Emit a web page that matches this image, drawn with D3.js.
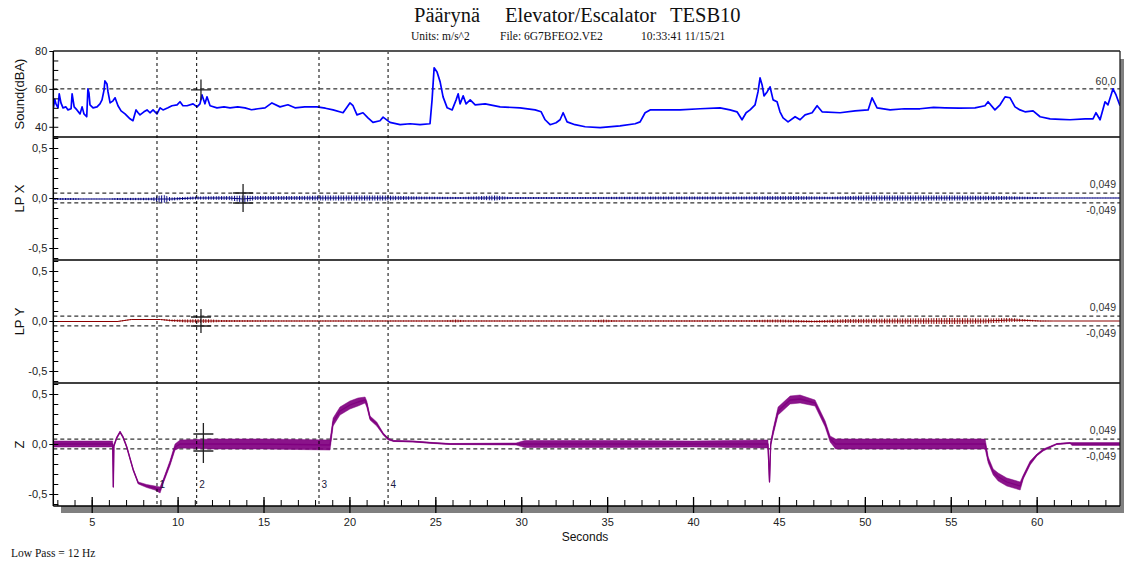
<!DOCTYPE html>
<html>
<head>
<meta charset="utf-8">
<script src="https://cdn.jsdelivr.net/npm/d3@7"></script>
<style>
body { margin: 0; background: #fff; }
text { font-family: "Liberation Sans", Arial, sans-serif; }
.serif { font-family: "Liberation Serif", "Times New Roman", serif; }
</style>
</head>
<body>
<div id="chart"></div>
<script>
// DATA
// sound level: [seconds, dBA]
var soundPts = [[2.77,50.0],[2.85,54.5],[2.92,52.1],[3.04,50.0],[3.11,57.4],[3.21,52.6],[3.33,50.0],[3.50,50.5],[3.62,48.9],[3.80,49.5],
  [3.86,57.4],[3.98,50.5],[4.14,48.9],[4.32,46.8],[4.44,50.5],[4.55,46.8],[4.71,45.3],[4.78,60.0],[4.84,57.9],[4.90,51.6],
  [5.08,50.0],[5.31,50.5],[5.48,52.1],[5.60,54.2],[5.72,59.5],[5.77,64.2],[5.89,62.6],[5.95,58.4],[6.07,52.6],[6.24,53.7],
  [6.36,55.3],[6.53,51.1],[6.71,48.4],[6.94,46.8],[7.23,44.2],[7.40,43.2],[7.58,48.9],[7.70,47.4],[7.81,46.3],[8.04,47.9],
  [8.22,48.9],[8.39,47.4],[8.57,48.9],[8.80,46.8],[8.98,50.0],[9.15,48.9],[9.44,50.0],[9.67,51.1],[9.97,51.6],[10.14,53.2],
  [10.31,51.1],[10.55,51.1],[10.90,52.1],[11.13,50.5],[11.30,52.1],[11.42,56.8],[11.59,52.1],[11.71,55.8],[11.89,51.1],[12.29,50.0],
  [12.70,50.5],[13.05,50.0],[13.50,50.5],[13.92,50.0],[14.30,49.0],[14.68,49.5],[15.09,50.0],[15.49,52.6],[15.96,50.5],[16.42,51.6],
  [16.83,50.0],[17.40,50.5],[18.11,50.5],[18.60,49.8],[19.05,48.9],[19.63,47.4],[20.03,52.6],[20.21,51.1],[20.44,46.3],[20.79,47.4],
  [21.08,44.7],[21.37,42.3],[21.78,43.2],[21.96,45.1],[22.36,42.3],[22.95,41.1],[23.53,41.6],[24.11,41.1],[24.69,41.6],[24.81,54.2],
  [24.93,71.1],[25.10,68.9],[25.28,63.7],[25.45,55.8],[25.69,50.0],[25.98,48.9],[26.21,54.2],[26.33,57.4],[26.44,52.1],[26.62,56.3],
  [26.79,52.1],[27.03,54.2],[27.32,51.6],[27.90,52.1],[28.77,50.5],[29.93,50.0],[30.81,48.9],[31.16,47.9],[31.39,43.7],[31.68,41.1],
  [32.03,42.1],[32.26,43.7],[32.44,47.4],[32.67,42.6],[33.13,41.1],[33.72,40.0],[34.59,39.5],[35.75,40.5],[36.63,41.6],[36.92,42.6],
  [37.21,47.4],[37.50,48.9],[38.37,48.9],[39.24,48.9],[40.41,49.5],[41.57,50.0],[42.15,48.9],[42.56,47.9],[42.85,43.7],[43.09,47.4],
  [43.32,48.9],[43.61,51.6],[43.78,58.4],[43.90,65.8],[44.02,62.1],[44.13,56.3],[44.31,58.4],[44.48,61.1],[44.66,54.2],[44.89,53.2],
  [45.06,47.9],[45.24,44.7],[45.53,42.6],[45.94,45.3],[46.23,43.7],[46.52,46.3],[46.93,47.4],[47.22,51.1],[47.51,47.9],[48.56,47.4],
  [49.43,48.4],[50.19,48.9],[50.42,55.3],[50.71,50.0],[51.47,48.9],[52.30,49.5],[53.21,49.5],[54.00,50.2],[54.67,50.0],[55.50,49.8],
  [56.41,50.0],[56.99,51.1],[57.17,53.2],[57.57,48.9],[57.87,51.6],[58.16,55.8],[58.45,55.3],[58.74,50.5],[59.03,48.9],[59.32,47.9],
  [59.79,48.4],[60.20,45.3],[60.78,44.2],[61.40,43.9],[61.94,43.7],[62.82,44.2],[63.28,44.2],[63.45,47.4],[63.69,43.7],[63.98,53.2],
  [64.15,51.6],[64.44,60.0],[64.62,56.8],[64.85,51.1]];

// low pass X: [seconds, centre, half-spread of the noise band]
var lpxPts = [[2.77,-0.01,0.01],[4.0,-0.01,0.01],[4.4,-0.01,0.002],[6.0,-0.01,0.002],[6.4,-0.01,0.01],[8.5,-0.01,0.012],
  [8.85,-0.01,0.03],[9.2,-0.01,0.04],[9.6,-0.01,0.015],[11.0,0.0,0.015],[13.0,0.0,0.02],[13.8,-0.01,0.035],[14.5,0.0,0.02],
  [17.0,0.0,0.02],[18.5,0.0,0.025],[22.0,0.0,0.025],[24.0,0.0,0.015],[26.5,0.0,0.01],[28.5,0.0,0.025],[29.3,0.0,0.01],
  [34.0,0.0,0.01],[38.0,0.0,0.015],[43.0,0.0,0.015],[46.0,0.0,0.02],[48.0,0.0,0.012],[50.0,0.0,0.025],[55.0,0.0,0.025],
  [58.0,0.0,0.02],[60.0,0.0,0.01],[61.0,0.0,0.003],[64.85,0.0,0.003]];

// low pass Y
var lpyPts = [[2.77,-0.005,0.004],[6.5,-0.005,0.004],[7.3,0.015,0.004],[9.0,0.015,0.006],[9.6,0.005,0.01],[10.5,0.0,0.015],
  [11.5,0.0,0.02],[12.5,0.0,0.01],[16.0,0.0,0.006],[25.5,0.0,0.005],[26.2,0.0,0.015],[26.8,0.0,0.005],[34.0,0.0,0.006],
  [34.8,0.0,0.015],[35.6,0.0,0.005],[43.0,0.0,0.008],[45.0,0.0,0.015],[47.0,-0.005,0.01],[49.0,0.0,0.02],[52.0,0.0,0.025],
  [55.0,0.0,0.03],[57.0,0.0,0.025],[58.5,0.01,0.02],[59.5,0.005,0.01],[60.2,0.0,0.004],[61.0,0.0,0.0],[64.85,0.0,0.0]];

// Z
var zPts = [[2.77,0.00,0.03],[4.5,0.00,0.03],[6.22,0.00,0.03],[6.26,-0.43,0.0],[6.29,-0.02,0.01],[6.45,0.06,0.01],
  [6.65,0.12,0.01],[6.82,0.07,0.01],[7.04,-0.03,0.01],[7.42,-0.26,0.01],[7.71,-0.39,0.01],[8.20,-0.42,0.015],[8.68,-0.44,0.02],
  [8.98,-0.46,0.03],[9.17,-0.37,0.02],[9.56,-0.19,0.025],[9.85,-0.03,0.03],[10.14,0.00,0.04],[12.0,0.00,0.05],[15.0,0.00,0.05],
  [17.0,-0.005,0.05],[18.87,-0.01,0.05],[19.05,0.22,0.04],[19.45,0.33,0.04],[20.03,0.39,0.04],[20.50,0.42,0.04],[20.91,0.44,0.03],
  [21.01,0.40,0.03],[21.20,0.26,0.02],[21.59,0.20,0.02],[21.97,0.10,0.01],[22.26,0.05,0.01],[22.56,0.03,0.005],[23.70,0.025,0.005],
  [24.87,0.01,0.005],[25.86,0.00,0.005],[29.7,0.00,0.01],[30.2,0.00,0.035],[36.0,0.00,0.035],[40.0,0.00,0.03],[44.36,0.00,0.04],
  [44.45,-0.38,0.0],[44.52,0.00,0.02],[44.66,0.12,0.03],[44.95,0.33,0.04],[45.65,0.44,0.04],[46.23,0.45,0.04],[47.10,0.41,0.03],
  [47.69,0.20,0.03],[47.98,0.05,0.03],[48.3,0.00,0.05],[57.00,0.00,0.05],[57.18,-0.16,0.03],[57.47,-0.28,0.03],[57.76,-0.33,0.04],
  [58.26,-0.38,0.04],[59.04,-0.42,0.04],[59.22,-0.33,0.02],[59.62,-0.19,0.02],[60.01,-0.11,0.01],[60.38,-0.06,0.01],
  [61.17,0.00,0.005],[61.94,0.01,0.005],[62.06,0.00,0.015],[64.85,0.00,0.015]];

// cursors (vertical dashed lines) and their numbers
var cursorTimes = [8.8, 11.11, 18.23, 22.25];
var cursorNames = ["1", "2", "3", "4"];

// crosshair markers per panel: [seconds, value, vertical half-span, bar offsets]
var soundMarker = [11.36, 59.5, 5.5, [0]];
var lpxMarker = [13.81, 0.0, 0.14, [0.05, -0.05]];
var lpyMarker = [11.36, 0.0, 0.12, [0.04, -0.05]];
var zMarker = [11.5, 0.01, 0.2, [0.09, -0.08]];

// alarm levels
var soundLevel = [60.0];
var accelLevels = [0.049, -0.049];

var xMajorTicks = [5, 10, 15, 20, 25, 30, 35, 40, 45, 50, 55, 60];
var xMinorTicks = d3.range(3, 65, 1);
var soundMajorTicks = [40, 60, 80];
var soundMinorTicks = [35, 40, 45, 50, 55, 60, 65, 70, 75, 80];
var accelMajorTicks = [-0.5, 0, 0.5];
var accelMinorTicks = [-0.6, -0.5, -0.4, -0.3, -0.2, -0.1, 0, 0.1, 0.2, 0.3, 0.4, 0.5, 0.6];

// SET UP DIMENSIONS
var W = 1125, H = 563;
var plotLeft = 53.3, plotRight = 1120, plotTop = 51, plotBottom = 506;

var svg = d3.select('#chart').append('svg')
  .attr('width', W)
  .attr('height', H);
var defs = svg.append('defs');

var x = d3.scaleLinear().domain([2.765, 64.85]).range([plotLeft, plotRight]);

var commaFmt = function(f) {
  return function(d) { return d3.format(f)(d).replace('.', ',').replace('\u2212', '-'); };
};

var panels = [
  { label: 'Sound(dBA)', top: 51, bottom: 137, domain: [34.6, 80], pts: soundPts, color: '#0000ff', band: null,
    major: soundMajorTicks, minor: soundMinorTicks, fmt: d3.format('d'), levels: soundLevel,
    levelFmt: commaFmt('.1f'), marker: soundMarker },
  { label: 'LP X', top: 137, bottom: 260, domain: [-0.62, 0.61], pts: lpxPts, color: '#00007f', band: 'hatch',
    major: accelMajorTicks, minor: accelMinorTicks, fmt: commaFmt('.1f'), levels: accelLevels,
    levelFmt: commaFmt('.3f'), marker: lpxMarker },
  { label: 'LP Y', top: 260, bottom: 383, domain: [-0.62, 0.61], pts: lpyPts, color: '#8b0000', band: 'hatch',
    major: accelMajorTicks, minor: accelMinorTicks, fmt: commaFmt('.1f'), levels: accelLevels,
    levelFmt: commaFmt('.3f'), marker: lpyMarker },
  { label: 'Z', top: 383, bottom: 506, domain: [-0.62, 0.61], pts: zPts, color: '#800080', band: 'solid',
    major: accelMajorTicks, minor: accelMinorTicks, fmt: commaFmt('.1f'), levels: accelLevels,
    levelFmt: commaFmt('.3f'), marker: zMarker }
];

// TITLE
svg.append('text').attr('class', 'serif').attr('x', 414).attr('y', 22)
  .style('font-size', '20.5px').attr('fill', '#111').text('Päärynä');
svg.append('text').attr('class', 'serif').attr('x', 505).attr('y', 22)
  .style('font-size', '20.5px').attr('fill', '#111').text('Elevator/Escalator');
svg.append('text').attr('class', 'serif').attr('x', 670).attr('y', 22)
  .style('font-size', '20.5px').attr('fill', '#111').text('TESB10');
svg.append('text').attr('class', 'serif').attr('x', 411).attr('y', 40)
  .style('font-size', '11.5px').attr('fill', '#111').text('Units: m/s^2');
svg.append('text').attr('class', 'serif').attr('x', 500).attr('y', 40)
  .style('font-size', '11.5px').attr('fill', '#111').text('File: 6G7BFEO2.VE2');
svg.append('text').attr('class', 'serif').attr('x', 641).attr('y', 40)
  .style('font-size', '11.5px').attr('fill', '#111').text('10:33:41 11/15/21');
svg.append('text').attr('class', 'serif').attr('x', 11).attr('y', 557)
  .style('font-size', '11.5px').attr('fill', '#111').text('Low Pass = 12 Hz');

// FRAME WITH 3D SHADOW
svg.append('rect').attr('x', 61).attr('y', 59).attr('width', 1124 - 61).attr('height', 513 - 59)
  .attr('fill', '#808080');
svg.append('rect').attr('x', plotLeft).attr('y', plotTop)
  .attr('width', plotRight - plotLeft).attr('height', plotBottom - plotTop).attr('fill', '#fff');

defs.append('clipPath').attr('id', 'plotclip').append('rect')
  .attr('x', plotLeft).attr('y', plotTop).attr('width', plotRight - plotLeft).attr('height', plotBottom - plotTop);

// PANELS
panels.forEach(function(p, i) {
  var y = d3.scaleLinear().domain(p.domain).range([p.bottom, p.top]);
  var g = svg.append('g').attr('clip-path', 'url(#plotclip)');

  // alarm levels
  p.levels.forEach(function(v) {
    g.append('line')
      .attr('x1', plotLeft).attr('x2', plotRight)
      .attr('y1', y(v)).attr('y2', y(v))
      .attr('stroke', '#000').attr('stroke-width', 1).attr('stroke-dasharray', '4,3');
    svg.append('text')
      .attr('x', 1116)
      .attr('y', v >= 0 ? y(v) - (p.band ? 5 : 3.5) : y(v) + 11)
      .attr('text-anchor', 'end')
      .style('font-size', '10.5px')
      .attr('fill', '#333')
      .text(p.levelFmt(v));
  });

  // trace: noise band first, then the centre line
  if (p.band) {
    var fill = p.color;
    if (p.band === 'hatch') {
      // thin vertical strokes mimic the fast oscillation of the filtered signal
      var pat = defs.append('pattern')
        .attr('id', 'hatch' + i)
        .attr('patternUnits', 'userSpaceOnUse')
        .attr('width', 2.6).attr('height', 6);
      pat.append('rect').attr('x', 0).attr('y', 0).attr('width', 1).attr('height', 6).attr('fill', p.color);
      fill = 'url(#hatch' + i + ')';
    }
    var area = d3.area()
      .x(function(d) { return x(d[0]); })
      .y0(function(d) { return y(d[1] - d[2]); })
      .y1(function(d) { return y(d[1] + d[2]); });
    g.append('path').datum(p.pts)
      .attr('d', area)
      .attr('fill', fill)
      .attr('fill-opacity', p.band === 'solid' ? 0.92 : 1)
      .attr('stroke', p.band === 'solid' ? p.color : 'none')
      .attr('stroke-width', 0.8).attr('stroke-opacity', 0.6);
  }
  var line = d3.line()
    .x(function(d) { return x(d[0]); })
    .y(function(d) { return y(d[1]); });
  g.append('path').datum(p.pts)
    .attr('d', line)
    .attr('fill', 'none')
    .attr('stroke', p.color)
    .attr('stroke-width', p.band === 'hatch' ? 1 : (p.band ? 1.3 : 1.7))
    .attr('stroke-linejoin', 'round');

  // crosshair marker
  var m = p.marker, mx = x(m[0]);
  g.append('line').attr('x1', mx).attr('x2', mx)
    .attr('y1', y(m[1] + m[2])).attr('y2', y(m[1] - m[2]))
    .attr('stroke', '#222').attr('stroke-width', 1.3);
  m[3].forEach(function(b) {
    g.append('line').attr('x1', mx - 10).attr('x2', mx + 10)
      .attr('y1', y(m[1] + b)).attr('y2', y(m[1] + b))
      .attr('stroke', '#222').attr('stroke-width', 1.3);
  });

  // left axis: inner minor ticks, crossing major ticks with labels
  var minorAxis = svg.append('g')
    .attr('transform', 'translate(' + plotLeft + ',0)')
    .call(d3.axisRight(y).tickValues(p.minor).tickSize(5).tickFormat(''));
  minorAxis.select('.domain').remove();
  var majorAxis = svg.append('g')
    .attr('transform', 'translate(' + plotLeft + ',0)')
    .call(d3.axisLeft(y).tickValues(p.major).tickSize(4).tickPadding(2).tickFormat(p.fmt));
  majorAxis.select('.domain').remove();
  majorAxis.selectAll('text').style('font-size', '11px').attr('fill', '#222')
    .style('font-family', '"Liberation Sans", Arial, sans-serif');
  svg.selectAll('.tick line').attr('stroke', '#000');

  // panel label
  svg.append('text')
    .attr('transform', 'translate(24,' + ((p.top + p.bottom) / 2) + ') rotate(-90)')
    .attr('text-anchor', 'middle')
    .style('font-size', '13px')
    .attr('fill', '#111')
    .text(p.label);

  // separator under each panel (except last)
  if (i < panels.length - 1) {
    svg.append('line')
      .attr('x1', plotLeft).attr('x2', plotRight)
      .attr('y1', p.bottom).attr('y2', p.bottom)
      .attr('stroke', '#000').attr('stroke-width', 1.3);
  }
});

// CURSORS
cursorTimes.forEach(function(t, i) {
  svg.append('line')
    .attr('x1', x(t)).attr('x2', x(t))
    .attr('y1', plotTop).attr('y2', plotBottom)
    .attr('stroke', '#000').attr('stroke-width', 1).attr('stroke-dasharray', '3,3');
  svg.append('text')
    .attr('x', x(t) + 2.5).attr('y', 488)
    .style('font-size', '10px')
    .attr('fill', '#1a1a40')
    .text(cursorNames[i]);
});

// BORDERS
svg.append('line').attr('x1', plotLeft).attr('x2', plotRight).attr('y1', plotTop).attr('y2', plotTop)
  .attr('stroke', '#555').attr('stroke-width', 2);
svg.append('line').attr('x1', plotRight).attr('x2', plotRight).attr('y1', plotTop).attr('y2', plotBottom)
  .attr('stroke', '#222').attr('stroke-width', 1.3);
svg.append('line').attr('x1', plotLeft).attr('x2', plotLeft).attr('y1', plotTop).attr('y2', plotBottom)
  .attr('stroke', '#000').attr('stroke-width', 1.5);
svg.append('line').attr('x1', plotLeft).attr('x2', plotRight).attr('y1', plotBottom).attr('y2', plotBottom)
  .attr('stroke', '#000').attr('stroke-width', 1.5);

// X AXIS
var xMinor = svg.append('g')
  .attr('transform', 'translate(0,' + plotBottom + ')')
  .call(d3.axisBottom(x).tickValues(xMinorTicks).tickSize(-6).tickFormat(''));
xMinor.select('.domain').remove();
var xMajor = svg.append('g')
  .attr('transform', 'translate(0,' + plotBottom + ')')
  .call(d3.axisBottom(x).tickValues(xMajorTicks).tickSize(-9).tickPadding(12).tickFormat(d3.format('d')));
xMajor.select('.domain').remove();
xMajor.selectAll('.tick line').attr('y2', -9).attr('y1', 7).attr('stroke', '#000').attr('stroke-width', 1.3);
xMinor.selectAll('.tick line').attr('stroke', '#000');
xMajor.selectAll('text').style('font-size', '11px').attr('fill', '#222')
  .style('font-family', '"Liberation Sans", Arial, sans-serif');

svg.append('text')
  .attr('x', 585).attr('y', 541)
  .attr('text-anchor', 'middle')
  .style('font-size', '12px')
  .attr('fill', '#111')
  .text('Seconds');
</script>
</body>
</html>
